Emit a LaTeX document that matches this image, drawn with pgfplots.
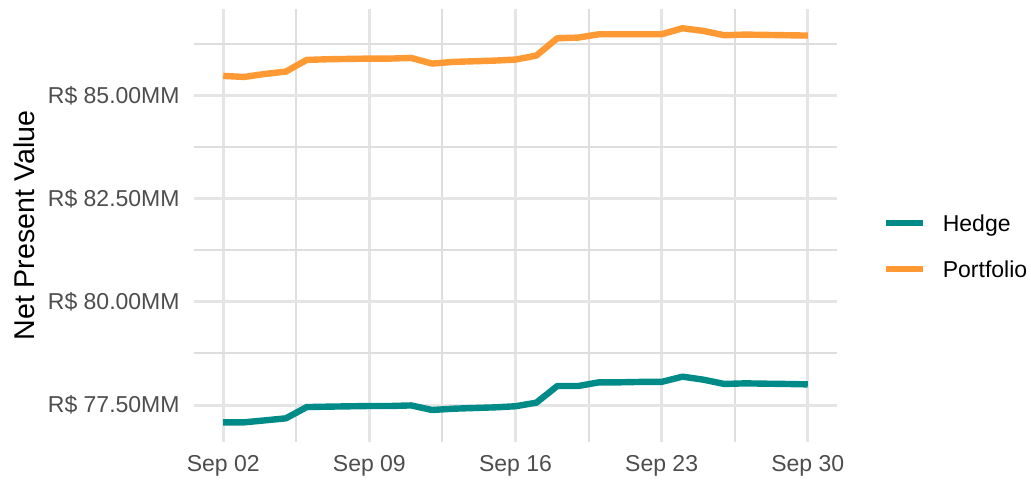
\documentclass[border=0pt]{standalone}
\usepackage{fontspec}
\setmainfont{Liberation Sans}
\usepackage{pgfplots}
\pgfplotsset{compat=1.18}
\usepackage{pgfplotstable}
\definecolor{hedgec}{RGB}{0,139,136}
\definecolor{portc}{RGB}{255,153,51}
\definecolor{tickc}{RGB}{77,77,77}
\definecolor{gridmaj}{RGB}{229,229,229}
\definecolor{gridmin}{RGB}{222,222,222}
\pgfplotstableread{
day portfolio hedge
2 85.478 77.080
3 85.453 77.080
4 85.526 77.128
5 85.583 77.177
6 85.866 77.450
7 85.882 77.460
8 85.890 77.468
9 85.898 77.476
10 85.898 77.476
11 85.914 77.490
12 85.777 77.379
13 85.817 77.410
14 85.833 77.427
15 85.849 77.443
16 85.874 77.470
17 85.971 77.557
18 86.391 77.960
19 86.407 77.960
20 86.488 78.050
21 86.488 78.050
22 86.488 78.060
23 86.488 78.060
24 86.634 78.187
25 86.569 78.114
26 86.464 78.010
27 86.480 78.025
28 86.472 78.017
29 86.464 78.010
30 86.456 78.000
}\datatable
\begin{document}
\begin{tikzpicture}
\begin{axis}[
  at={(0,0)}, anchor=south west,
  scale only axis,
  width=321.5pt, height=216.5pt,
  xmin=0.6, xmax=31.4,
  ymin=76.603, ymax=87.10,
  axis line style={draw=none},
  major tick length=0pt, minor tick length=0pt,
  xtick={2,9,16,23,30},
  xticklabels={Sep 02,Sep 09,Sep 16,Sep 23,Sep 30},
  minor xtick={5.5,12.5,19.5,26.5},
  ytick={77.5,80,82.5,85},
  yticklabels={R\$ 77.50MM,R\$ 80.00MM,R\$ 82.50MM,R\$ 85.00MM},
  minor ytick={78.75,81.25,83.75,86.25},
  grid=both,
  major grid style={color=gridmaj, line width=1.5pt},
  minor grid style={color=gridmin, line width=1pt},
  tick label style={font=\fontsize{11.5pt}{13pt}\selectfont, text=tickc, inner sep=0pt},
  xticklabel style={anchor=north, yshift=-6.5pt},
  yticklabel style={anchor=east, xshift=-7pt},
  ylabel={Net Present Value},
  every axis y label/.style={at={(axis description cs:-0.2815,0.5)}, rotate=90, anchor=north, inner sep=0pt, font=\fontsize{14.3pt}{16pt}\selectfont},
  legend style={draw=none, fill=none, at={(1.070,0.4458)}, anchor=west, inner sep=0pt,
    font=\fontsize{11.5pt}{13pt}\selectfont,
    nodes={inner sep=0pt, text height=8.5pt, text depth=3pt},
    row sep=11.5pt, column sep=8.5pt},
  legend cell align=left,
  legend image code/.code={\draw[#1, line width=3.2pt, line cap=butt] (0pt,1.6pt) -- (18.5pt,1.6pt);},
]
\addplot[hedgec, line width=3.2pt, line join=round, no markers] table[x=day, y=hedge] {\datatable};
\addlegendentry{Hedge}
\addplot[portc, line width=3.2pt, line join=round, no markers] table[x=day, y=portfolio] {\datatable};
\addlegendentry{Portfolio}
\end{axis}
\pgfresetboundingbox
\path (-97pt,-18.5pt) rectangle (418.5pt,221pt);
\end{tikzpicture}
\end{document}
